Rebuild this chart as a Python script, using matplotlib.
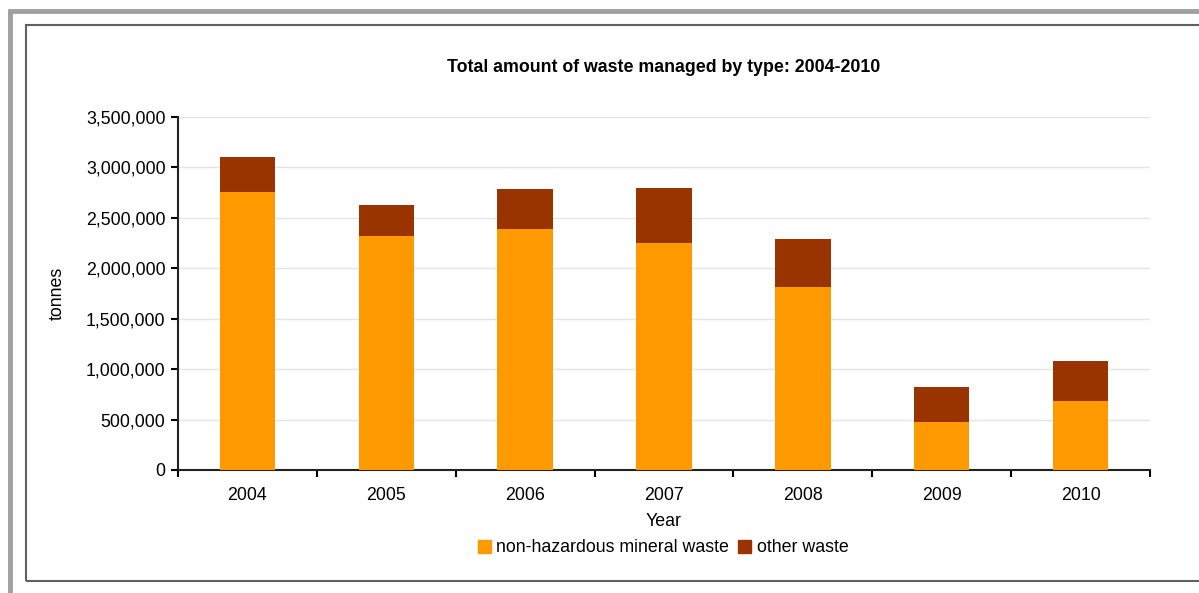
import matplotlib.pyplot as plt
import numpy as np
from matplotlib.patches import Rectangle, Patch
from matplotlib.ticker import FuncFormatter, MultipleLocator

plt.rcParams['font.family'] = ['Liberation Sans', 'DejaVu Sans']

years = ['2004', '2005', '2006', '2007', '2008', '2009', '2010']
non_hazardous = [2759000, 2317000, 2387000, 2254000, 1814000, 473000, 687000]
other_waste = [347000, 310000, 399000, 539000, 476000, 353000, 391000]

W, H = 1199, 593
fig = plt.figure(figsize=(W / 100, H / 100), dpi=100)

# outer grey frame and inner chart border
fig.add_artist(Rectangle((10.5 / W, -0.05), 1.2, 1.05 - 11 / H, transform=fig.transFigure,
                         fill=False, edgecolor='#a0a0a0', linewidth=3.5))
fig.add_artist(Rectangle((26 / W, 1 - 581 / H), 1.2, (581 - 25) / H, transform=fig.transFigure,
                         fill=False, edgecolor='#606060', linewidth=1.5))

ax = fig.add_axes([178 / W, 1 - 470 / H, (1150 - 178) / W, (470 - 117) / H])
x = np.arange(len(years))
ax.bar(x, non_hazardous, width=0.4, color='#ff9900', label='non-hazardous mineral waste', zorder=3)
ax.bar(x, other_waste, width=0.4, bottom=non_hazardous, color='#993300', label='other waste', zorder=3)

ax.set_xlim(-0.5, len(years) - 0.5)
ax.set_ylim(0, 3500000)
ax.yaxis.set_major_locator(MultipleLocator(500000))
ax.yaxis.set_major_formatter(FuncFormatter(lambda v, p: f'{int(v):,}'))
ax.grid(axis='y', color='#e4e4e4', linewidth=1, zorder=0)

fs = 12.8
ax.set_xticks(x)
ax.set_xticklabels(years)
ax.set_xticks(np.arange(-0.5, len(years)), minor=True)
ax.tick_params(axis='x', which='major', length=0, labelsize=fs, pad=12)
ax.tick_params(axis='x', which='minor', length=5, width=1.5, direction='out')
ax.tick_params(axis='y', length=5, width=1.5, labelsize=fs, pad=4)

for s in ['top', 'right']:
    ax.spines[s].set_visible(False)
for s in ['left', 'bottom']:
    ax.spines[s].set_linewidth(1.5)
    ax.spines[s].set_color('#222222')

ax.set_xlabel('Year', fontsize=fs, labelpad=7)
ax.set_ylabel('tonnes', fontsize=fs)
ax.yaxis.set_label_coords((66 - 178) / (1150 - 178), 0.5)

fig.text(664 / W, 1 - 68 / H, 'Total amount of waste managed by type: 2004-2010',
         ha='center', va='center', fontsize=fs, fontweight='bold')

handles = [Patch(color='#ff9900'), Patch(color='#993300')]
fig.legend(handles, ['non-hazardous mineral waste', 'other waste'], loc='center',
           bbox_to_anchor=(663 / W, 1 - 548 / H), ncol=2, frameon=False, fontsize=fs,
           handlelength=0.75, handleheight=0.75, handletextpad=0.3, columnspacing=0.5)

fig.savefig('out.png', dpi=100)
